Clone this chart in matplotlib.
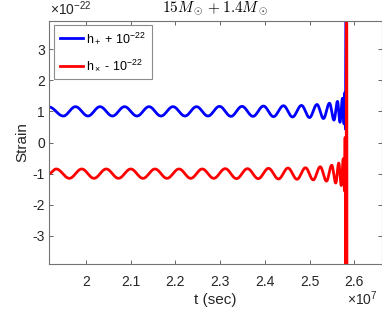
import numpy as np
import matplotlib
matplotlib.use("Agg")
import matplotlib.pyplot as plt

# ---- data (time in units of 1e7 s, strain in units of 1e-22) ----
# extrema of h_+ + 1e-22 (times and values)
plus_t = [1.91726, 1.94924, 1.97652, 2.00447, 2.03131, 2.05926, 2.08609, 2.11404,
          2.14088, 2.16771, 2.19454, 2.22138, 2.24709, 2.27281, 2.29852, 2.32424,
          2.34884, 2.37344, 2.39691, 2.41928, 2.44164, 2.46177, 2.48189, 2.49978,
          2.51655, 2.53108, 2.54450, 2.55456, 2.56239, 2.56798, 2.57357, 2.57692,
          2.57871, 2.58006, 2.58207]
plus_v = [1.14, 0.85, 1.15, 0.85, 1.15, 0.85, 1.15, 0.85,
          1.15, 0.85, 1.15, 0.85, 1.15, 0.85, 1.16, 0.84,
          1.16, 0.84, 1.17, 0.83, 1.18, 0.82, 1.19, 0.80,
          1.22, 0.77, 1.26, 0.72, 1.32, 0.65, 1.42, 0.60,
          1.60, 0.43, 8.0]

# extrema of h_x - 1e-22
cross_t = [1.91726, 1.93336, 1.96288, 1.99050, 2.01789, 2.04528, 2.07267, 2.10007,
           2.12746, 2.15429, 2.18113, 2.20796, 2.23424, 2.25995, 2.28567, 2.31138,
           2.33654, 2.36114, 2.38517, 2.40810, 2.43046, 2.45170, 2.47183, 2.49083,
           2.50816, 2.52381, 2.53779, 2.54953, 2.55847, 2.56518, 2.57078, 2.57525,
           2.57782, 2.57939, 2.58140, 2.58274, 2.58386]
cross_v = [-1.00, -0.85, -1.15, -0.85, -1.15, -0.85, -1.15, -0.85,
           -1.15, -0.85, -1.15, -0.85, -1.15, -0.85, -1.15, -0.84,
           -1.16, -0.84, -1.16, -0.83, -1.17, -0.82, -1.18, -0.81,
           -1.20, -0.78, -1.24, -0.73, -1.30, -0.66, -1.38, -0.52,
           -1.55, 0.16, -8.0, 8.0, -8.0]

x_ticks = [2.0, 2.1, 2.2, 2.3, 2.4, 2.5, 2.6]
x_ticklabels = ["2", "2.1", "2.2", "2.3", "2.4", "2.5", "2.6"]
y_ticks = [-3, -2, -1, 0, 1, 2, 3]
y_ticklabels = ["-3", "-2", "-1", "0", "1", "2", "3"]
legend_labels = ["h$_+$ + 10$^{-22}$", "h$_\\times$ - 10$^{-22}$"]


def halfwave(tx, vals, n=40):
    """Smooth curve through successive extrema using cosine half-waves."""
    tx = np.asarray(tx, float)
    vals = np.asarray(vals, float)
    ts, ys = [], []
    for i in range(len(tx) - 1):
        s = np.linspace(0, 1, n, endpoint=False)
        ts.append(tx[i] + (tx[i + 1] - tx[i]) * s)
        ys.append(vals[i + 1] + (vals[i] - vals[i + 1]) * (1 + np.cos(np.pi * s)) / 2)
    ts.append([tx[-1]])
    ys.append([vals[-1]])
    return np.concatenate(ts), np.concatenate(ys)


plt.rcParams["font.family"] = ["Liberation Sans", "DejaVu Sans"]
plt.rcParams["mathtext.fontset"] = "custom"
plt.rcParams["mathtext.rm"] = "Liberation Sans"
plt.rcParams["mathtext.it"] = "Liberation Sans:italic"
plt.rcParams["mathtext.bf"] = "Liberation Sans:bold"

W, H = 382, 309
fig = plt.figure(figsize=(W / 100, H / 100), dpi=100)
ax_l, ax_r, ax_t, ax_b = 49, 381.5, 21, 264
ax = fig.add_axes([ax_l / W, 1 - ax_b / H, (ax_r - ax_l) / W, (ax_b - ax_t) / H])

tp, yp = halfwave(plus_t, plus_v)
tc, yc = halfwave(cross_t, cross_v)
ax.plot(tp, yp, color=(0, 0, 1), lw=2.0, label=legend_labels[0])
ax.plot(tc, yc, color=(1, 0, 0), lw=2.0, label=legend_labels[1])

ax.set_xlim(1.9173, 2.6608)
ax.set_ylim(-3.9, 3.9)
ax.set_xticks(x_ticks)
ax.set_xticklabels(x_ticklabels)
ax.set_yticks(y_ticks)
ax.set_yticklabels(y_ticklabels)

tc_col = "0.15"
for sp in ax.spines.values():
    sp.set_color("0.45")
    sp.set_linewidth(0.8)
ax.tick_params(axis="both", which="both", direction="in", top=True, right=True,
               length=2.8, width=0.6, color="0.3", labelsize=10, labelcolor=tc_col)
ax.tick_params(axis="x", pad=8)
ax.tick_params(axis="y", pad=3)

ax.set_xlabel("t (sec)", fontsize=11, color=tc_col, labelpad=3)
ax.set_ylabel("Strain", fontsize=11, color=tc_col, labelpad=2)
ax.set_title(r"$15M_\odot+1.4M_\odot$", fontsize=11, math_fontfamily="cm", pad=6.5)

fig.text(50 / W, 1 - 15.5 / H, "\u00d710$^{-22}$", fontsize=10, color=tc_col,
         ha="left", va="baseline")
fig.text(347 / W, 1 - 305 / H, "\u00d710$^{7}$", fontsize=10, color=tc_col,
         ha="left", va="baseline")

leg = ax.legend(loc="upper left", bbox_to_anchor=(5 / (ax_r - ax_l), 1 - 4 / (ax_b - ax_t)),
                borderaxespad=0, fontsize=9, handlelength=1.85, handletextpad=0.3,
                borderpad=0.45, labelspacing=0.95, fancybox=False, framealpha=1)
leg.get_frame().set_edgecolor("0.55")
leg.get_frame().set_linewidth(0.8)

fig.savefig("out.png", dpi=100)
